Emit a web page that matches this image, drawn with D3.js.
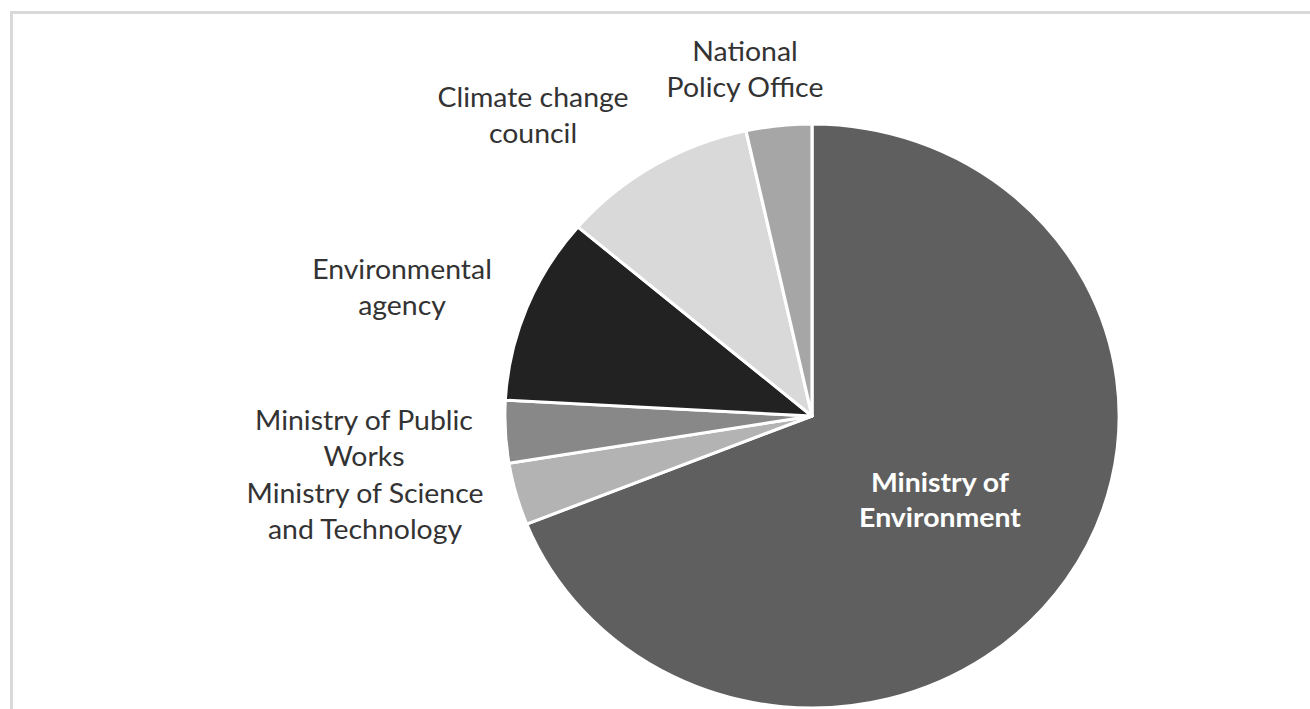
<!DOCTYPE html>
<html>
<head>
<meta charset="utf-8">
<script src="https://cdn.jsdelivr.net/npm/d3@7"></script>
<style>
  html, body { margin: 0; padding: 0; background: #ffffff; }
  svg { display: block; }
</style>
</head>
<body>
<svg id="chart" width="1310" height="709"></svg>
<script>
// Responsible bodies, listed clockwise from 12 o'clock
const bodies = [
  "Ministry of Environment",
  "Ministry of Science and Technology",
  "Ministry of Public Works",
  "Environmental agency",
  "Climate change council",
  "National Policy Office"
];
// Number of mentions per body
const counts = [20, 1, 1, 3, 3, 1];
// Slice fills
const fills = ["#5f5f5f", "#b3b3b3", "#888888", "#222222", "#d9d9d9", "#a6a6a6"];
// Label text lines per body
const labelLines = [
  ["Ministry of", "Environment"],
  ["Ministry of Science", "and Technology"],
  ["Ministry of Public", "Works"],
  ["Environmental", "agency"],
  ["Climate change", "council"],
  ["National", "Policy Office"]
];

const svg = d3.select("#chart");
const W = 1310, H = 709;

// Chart frame
svg.append("rect")
  .attr("x", 11.5).attr("y", 12.5)
  .attr("width", W + 20).attr("height", H + 20)
  .attr("fill", "none")
  .attr("stroke", "#d9d9d9")
  .attr("stroke-width", 3);

const cx = 812, cy = 416, radius = 292, stretchX = 1.052;

const data = bodies.map((name, i) => ({ name, value: counts[i], fill: fills[i], lines: labelLines[i] }));

const pie = d3.pie().value(d => d.value).sort(null);
const arc = d3.arc().innerRadius(0).outerRadius(radius);
const arcs = pie(data);

const pieG = svg.append("g")
  .attr("transform", `translate(${cx},${cy}) scale(${stretchX},1)`);

pieG.selectAll("path")
  .data(arcs)
  .join("path")
  .attr("d", arc)
  .attr("fill", d => d.data.fill)
  .attr("stroke", "#ffffff")
  .attr("stroke-width", 3)
  .attr("stroke-linejoin", "round");

// Label anchors (centre x, first baseline y) for each body
const labelPos = {
  "Ministry of Environment": [940, 492],
  "Ministry of Science and Technology": [365, 503],
  "Ministry of Public Works": [364, 430],
  "Environmental agency": [402, 279],
  "Climate change council": [533, 107],
  "National Policy Office": [745, 61]
};
const lineGap = 36;

const labelG = svg.append("g")
  .attr("font-family", "Lato, 'Open Sans', sans-serif");

arcs.forEach((a, i) => {
  const [x, y] = labelPos[a.data.name];
  const inside = i === 0;
  const t = labelG.append("text")
    .attr("transform", `translate(${x},${y}) scale(${stretchX},1)`)
    .attr("text-anchor", "middle")
    .attr("fill", inside ? "#ffffff" : "#333333")
    .attr("font-weight", inside ? 700 : 400)
    .attr("font-size", inside ? 27 : 27);
  a.data.lines.forEach((ln, k) => {
    t.append("tspan")
      .attr("x", 0)
      .attr("y", k * (inside ? 35 : lineGap))
      .text(ln);
  });
});
</script>
</body>
</html>
